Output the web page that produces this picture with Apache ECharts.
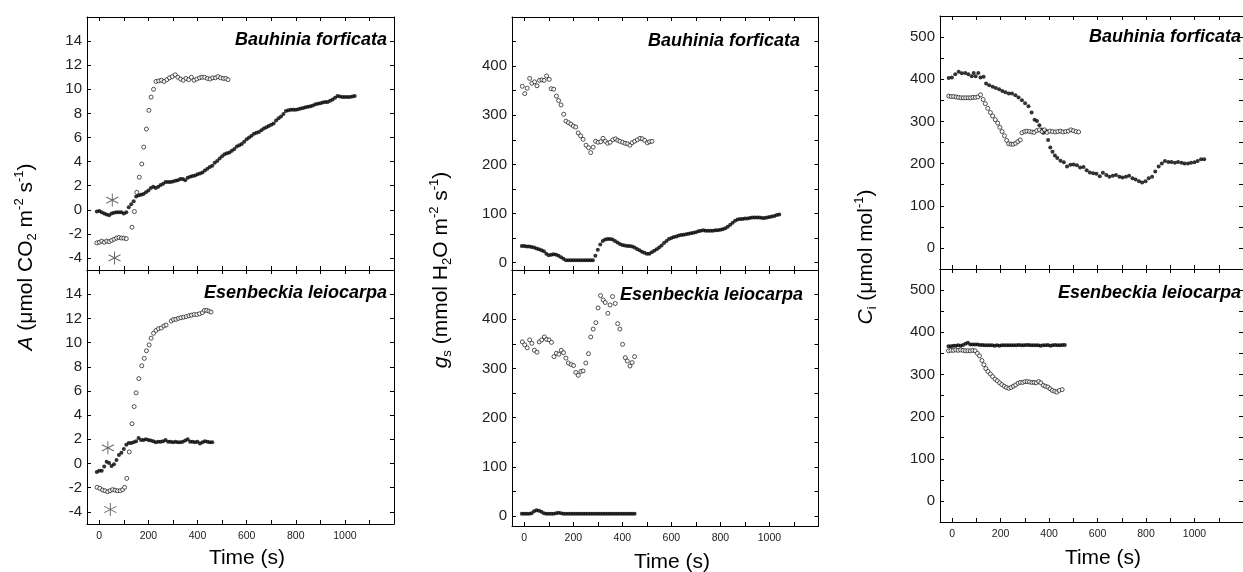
<!DOCTYPE html>
<html><head><meta charset="utf-8">
<script src="https://cdn.jsdelivr.net/npm/echarts@6/dist/echarts.min.js"></script>
<style>html,body{margin:0;padding:0;background:#fff}#c{width:1243px;height:572px}</style>
</head><body><div id="c"></div>
<script>
// ---------- tick / label values ----------
const xTicks = [0,100,200,300,400,500,600,700,800,900,1000,1100];
const xLabels = [0,200,400,600,800,1000];
const aTicks = [-4,-2,0,2,4,6,8,10,12,14];
const gsTicks = [0,50,100,150,200,250,300,350,400,450];
const gsLabels = [0,100,200,300,400];
const ciTicks = [0,50,100,150,200,250,300,350,400,450,500];
const ciLabels = [0,100,200,300,400,500];

const species = ['Bauhinia forficata', 'Esenbeckia leiocarpa'];

// ---------- A (net photosynthesis) ----------
const A_bf_closed = [[-10,-0.15],[0,-0.1],[10,-0.2],[20,-0.3],[30,-0.4],[40,-0.45],[50,-0.3],[60,-0.25],[70,-0.2],[80,-0.2],[90,-0.2],[100,-0.3],[110,-0.2],[120,0.2],[130,0.45],[140,0.7],[150,1.1],[160,1.2],[170,1.25],[180,1.3],[190,1.45],[200,1.6],[210,1.8],[220,1.9],[230,1.8],[240,1.9],[250,2.05],[260,2.15],[270,2.3],[280,2.3],[290,2.3],[300,2.35],[310,2.4],[320,2.45],[330,2.55],[340,2.55],[350,2.45],[360,2.65],[370,2.75],[380,2.8],[390,2.85],[400,2.95],[410,3.0],[420,3.1],[430,3.25],[440,3.4],[450,3.55],[460,3.65],[470,3.9],[480,4.05],[490,4.25],[500,4.45],[510,4.6],[520,4.7],[530,4.75],[540,4.9],[550,5.05],[560,5.25],[570,5.35],[580,5.45],[590,5.65],[600,5.85],[610,6.0],[620,6.15],[630,6.3],[640,6.4],[650,6.45],[660,6.6],[670,6.75],[680,6.85],[690,6.95],[700,7.05],[710,7.15],[720,7.4],[730,7.6],[740,7.75],[750,7.95],[760,8.2],[770,8.25],[780,8.3],[790,8.3],[800,8.3],[810,8.35],[820,8.4],[830,8.45],[840,8.5],[850,8.55],[860,8.6],[870,8.65],[880,8.75],[890,8.8],[900,8.85],[910,8.9],[920,8.95],[930,8.95],[940,9.05],[950,9.15],[960,9.3],[970,9.45],[980,9.4],[990,9.35],[1000,9.35],[1010,9.35],[1020,9.35],[1030,9.4],[1040,9.45]];
const A_bf_open = [[-10,-2.75],[0,-2.7],[10,-2.6],[20,-2.7],[30,-2.6],[40,-2.65],[50,-2.55],[60,-2.45],[70,-2.35],[80,-2.3],[90,-2.35],[100,-2.35],[110,-2.4],[133,-1.45],[143,-0.15],[153,1.45],[163,2.7],[173,3.8],[181,5.2],[192,6.7],[202,8.25],[211,9.35],[221,10.0],[231,10.65],[242,10.7],[253,10.75],[264,10.65],[275,10.8],[286,10.95],[297,11.05],[309,11.2],[320,11.0],[331,10.85],[342,10.75],[353,10.9],[364,10.8],[375,11.0],[386,10.75],[397,10.85],[408,10.95],[418,11.0],[429,11.0],[440,10.9],[451,10.85],[462,10.95],[473,10.95],[483,11.05],[494,10.95],[505,10.9],[515,10.9],[524,10.8]];
const A_bf_star = [[53,0.8],[62,-4.0]];

const A_el_closed = [[-10,-0.7],[0,-0.6],[10,-0.6],[20,-0.25],[30,0.15],[40,0.05],[50,-0.2],[60,-0.05],[70,0.3],[80,0.7],[90,0.9],[100,1.2],[110,1.55],[120,1.7],[130,1.7],[140,1.75],[150,1.85],[160,2.1],[170,1.95],[180,1.95],[190,2.0],[200,1.95],[210,1.9],[220,1.85],[230,1.75],[240,1.8],[250,1.8],[260,1.85],[270,1.95],[280,1.8],[290,1.8],[300,1.75],[310,1.8],[320,1.75],[330,1.75],[340,1.8],[350,1.9],[360,2.0],[370,1.8],[380,1.8],[390,1.75],[400,1.8],[410,1.65],[420,1.75],[430,1.85],[440,1.8],[450,1.75],[460,1.75]];
const A_el_open = [[-9,-1.97],[2,-2.05],[13,-2.19],[23,-2.25],[34,-2.33],[44,-2.25],[54,-2.16],[64,-2.2],[74,-2.25],[85,-2.25],[95,-2.16],[103,-1.97],[112,-1.23],[122,0.96],[133,3.29],[142,4.71],[150,5.84],[161,7.02],[173,8.08],[183,8.69],[192,9.32],[203,9.81],[211,10.36],[221,10.77],[231,11.0],[241,11.15],[252,11.2],[263,11.37],[272,11.45],[293,11.78],[302,11.9],[312,11.92],[322,12.0],[332,12.05],[343,12.1],[354,12.15],[365,12.22],[375,12.27],[386,12.32],[397,12.32],[408,12.38],[420,12.47],[428,12.66],[437,12.66],[446,12.6],[455,12.52]];
const A_el_star = [[35,1.3],[45,-3.8]];

// ---------- gs (stomatal conductance) ----------
const gs_bf_closed = [[-10,34],[0,34],[10,33],[20,33],[30,32],[40,31],[50,29],[60,27],[70,25],[80,23],[90,18],[100,15],[110,16],[120,17],[130,16],[140,14],[150,11],[160,8],[170,5],[180,5],[190,5],[200,5],[210,5],[220,5],[230,5],[240,5],[250,5],[260,5],[270,5],[280,5],[290,14],[300,26],[310,37],[320,44],[330,47],[340,48],[350,48],[360,47],[370,44],[380,41],[390,38],[400,36],[410,35],[420,34],[430,34],[440,33],[450,31],[460,28],[470,25],[480,22],[490,20],[500,18],[510,18],[520,21],[530,24],[540,27],[550,31],[560,35],[570,40],[580,44],[590,48],[600,50],[610,52],[620,53],[630,55],[640,56],[650,57],[660,58],[670,59],[680,60],[690,61],[700,62],[710,64],[720,65],[730,66],[740,65],[750,65],[760,65],[770,65],[780,66],[790,66],[800,67],[810,68],[820,70],[830,73],[840,77],[850,81],[860,85],[870,88],[880,89],[890,89],[900,90],[910,90],[920,91],[930,92],[940,92],[950,92],[960,92],[970,91],[980,91],[990,92],[1000,93],[1010,94],[1020,95],[1030,97],[1040,98]];
const gs_bf_open = [[-8,359],[2,344],[12,355],[22,375],[31,365],[42,368],[52,360],[62,371],[72,372],[81,371],[91,380],[102,373],[110,354],[120,353],[131,339],[140,330],[150,321],[161,302],[170,288],[180,285],[190,282],[200,278],[210,276],[220,264],[230,258],[240,251],[252,239],[262,234],[271,224],[281,235],[291,247],[301,245],[312,246],[321,253],[331,247],[340,243],[350,245],[361,250],[372,252],[381,249],[390,247],[401,245],[411,243],[421,242],[431,239],[440,244],[450,247],[461,250],[472,253],[481,252],[491,249],[502,244],[511,246],[521,247]];

const gs_el_closed = [[-10,5],[0,5],[10,5],[20,5],[30,6],[40,10],[50,12],[60,11],[70,9],[80,6],[90,5],[100,5],[110,5],[120,5],[130,6],[140,7],[150,6],[160,5],[170,5],[180,5],[190,5],[200,5],[210,5],[220,5],[230,5],[240,5],[250,5],[260,5],[270,5],[280,5],[290,5],[300,5],[310,5],[320,5],[330,5],[340,5],[350,5],[360,5],[370,5],[380,5],[390,5],[400,5],[410,5],[420,5],[430,5],[440,5],[450,5]];
const gs_el_open = [[-8,354],[2,348],[12,342],[22,358],[31,351],[41,337],[52,333],[61,354],[71,358],[82,364],[91,359],[101,358],[111,353],[121,324],[131,331],[141,329],[151,337],[160,332],[170,321],[180,311],[191,308],[201,306],[210,292],[220,286],[231,294],[240,295],[251,311],[262,330],[271,364],[281,380],[292,393],[301,423],[311,448],[322,439],[330,434],[341,412],[350,429],[360,446],[371,432],[381,391],[390,380],[401,349],[412,322],[420,315],[431,305],[440,312],[450,324]];

// ---------- Ci (internal CO2) ----------
const ci_bf_closed = [[-14,403],[-1,404],[13,412],[27,418],[40,414],[54,415],[67,412],[81,407],[89,415],[97,407],[108,415],[117,404],[130,406],[140,390],[153,386],[167,382],[180,379],[194,376],[207,372],[220,369],[234,366],[247,366],[261,362],[274,357],[288,350],[301,343],[315,336],[328,321],[340,304],[350,301],[360,291],[369,281],[376,273],[387,278],[396,256],[405,238],[414,228],[424,219],[434,213],[447,207],[461,203],[474,193],[488,197],[501,198],[515,196],[528,191],[542,192],[555,184],[568,179],[582,177],[595,176],[609,170],[622,178],[636,173],[649,169],[663,171],[676,173],[690,169],[703,167],[717,169],[730,171],[744,165],[757,162],[771,158],[784,155],[798,158],[811,165],[825,169],[838,181],[852,193],[865,200],[878,206],[892,204],[905,204],[919,202],[932,204],[946,202],[959,200],[973,200],[986,202],[1000,203],[1013,206],[1027,210],[1040,210]];
const ci_bf_open = [[-14,360],[-4,359],[6,359],[16,358],[26,357],[36,356],[46,356],[56,356],[66,356],[76,356],[86,357],[96,357],[106,358],[117,363],[128,352],[137,342],[147,331],[158,321],[167,313],[178,304],[188,296],[197,286],[206,276],[216,266],[225,255],[233,247],[243,246],[252,246],[262,248],[271,252],[281,256],[288,273],[299,276],[308,277],[319,276],[329,275],[338,274],[349,278],[360,280],[371,276],[381,280],[392,274],[403,277],[414,276],[425,275],[436,276],[447,277],[457,275],[468,276],[479,277],[490,280],[500,278],[511,276],[522,275]];

const ci_el_closed = [[-15,367],[-5,367],[5,368],[15,368],[25,369],[35,368],[45,370],[55,373],[65,375],[75,371],[85,371],[95,371],[105,371],[115,370],[125,370],[135,369],[145,369],[155,369],[165,369],[175,368],[185,369],[195,368],[205,369],[215,369],[225,369],[235,369],[245,369],[255,369],[265,369],[275,370],[285,369],[295,369],[305,370],[315,370],[325,369],[335,369],[345,369],[355,369],[365,368],[375,369],[385,369],[395,370],[405,368],[415,369],[425,370],[435,369],[445,369],[455,370],[465,370]];
const ci_el_open = [[-15,356],[-5,357],[5,357],[15,358],[25,357],[35,358],[45,357],[55,356],[65,356],[75,356],[85,357],[95,356],[104,350],[113,344],[123,333],[131,323],[139,314],[148,307],[158,301],[167,295],[177,289],[186,285],[196,280],[205,276],[215,272],[224,269],[234,267],[243,269],[253,272],[262,275],[272,279],[281,281],[291,281],[300,283],[310,283],[319,282],[329,281],[338,281],[347,280],[357,283],[366,280],[376,274],[385,272],[395,270],[404,266],[413,262],[423,260],[432,258],[442,262],[454,264]];

// ---------- layout ----------
const FONT = "'Liberation Sans', Arial, Helvetica, sans-serif";
const grids = [
  {left:87,  top:17,  width:307,   height:253, ymin:-5,  ymax:16,  yt:aTicks,  yl:aTicks,   bottom:false},
  {left:87,  top:270, width:307,   height:254, ymin:-5,  ymax:16,  yt:aTicks,  yl:aTicks,   bottom:true},
  {left:512, top:17,  width:306.5, height:253, ymin:-15, ymax:500, yt:gsTicks, yl:gsLabels, bottom:false},
  {left:512, top:270, width:306.5, height:256, ymin:-20, ymax:500, yt:gsTicks, yl:gsLabels, bottom:true},
  {left:940, top:16,  width:310,   height:253, ymin:-50, ymax:550, yt:ciTicks, yl:ciLabels, bottom:false},
  {left:940, top:269, width:310,   height:253, ymin:-50, ymax:550, yt:ciTicks, yl:ciLabels, bottom:true}
];

const lineStyle = {color:'#000', width:1};
const plain = v => String(v);
const xAxes = [], yAxes = [];
grids.forEach((g, i) => {
  [false, true].forEach(mirror => {
    xAxes.push({
      type:'value', gridIndex:i, min:-50, max:1200, position: mirror ? 'top' : 'bottom',
      axisLine:{show:true, onZero:false, lineStyle},
      axisTick:{show:true, inside:true, length:4, customValues:xTicks, lineStyle},
      axisLabel:{show: g.bottom && !mirror, customValues:xLabels, formatter:plain, fontSize:10.5, margin:7, color:'#222', fontFamily:FONT},
      splitLine:{show:false}
    });
    yAxes.push({
      type:'value', gridIndex:i, min:g.ymin, max:g.ymax, position: mirror ? 'right' : 'left',
      axisLine:{show:true, onZero:false, lineStyle},
      axisTick:{show:true, inside:true, length:4, customValues:g.yt, lineStyle},
      axisLabel:{show: !mirror, customValues:g.yl, formatter:plain, fontSize:15, margin:5, color:'#222', fontFamily:FONT},
      splitLine:{show:false}
    });
  });
});

function closed(data, gi) {
  return {type:'scatter', xAxisIndex:2*gi, yAxisIndex:2*gi, data, symbol:'circle', symbolSize:4,
    itemStyle:{color:'#000'}, silent:true, z:3};
}
function open(data, gi) {
  return {type:'scatter', xAxisIndex:2*gi, yAxisIndex:2*gi, data, symbol:'circle', symbolSize:4,
    itemStyle:{color:'#fff', borderColor:'#111', borderWidth:0.9}, silent:true, z:4};
}
function stars(data, gi) {
  return {type:'scatter', xAxisIndex:2*gi, yAxisIndex:2*gi, data,
    symbol:'path://M5,0L5,10M0.9,2.6L9.1,7.4M0.9,7.4L9.1,2.6', symbolSize:[12,13],
    itemStyle:{color:'rgba(0,0,0,0)', borderColor:'#444', borderWidth:1}, silent:true, z:5};
}

const series = [
  closed(A_bf_closed,0), open(A_bf_open,0), stars(A_bf_star,0),
  closed(A_el_closed,1), open(A_el_open,1), stars(A_el_star,1),
  closed(gs_bf_closed,2), open(gs_bf_open,2),
  closed(gs_el_closed,3), open(gs_el_open,3),
  closed(ci_bf_closed,4), open(ci_bf_open,4),
  closed(ci_el_closed,5), open(ci_el_open,5)
];

const titleStyle = (t) => ({text:t, fontFamily:FONT, fontSize:18, fontWeight:'bold', fontStyle:'italic', fill:'#000', align:'right', verticalAlign:'middle'});
const titles = [
  {x:387,  y:40,  t:species[0]}, {x:387,  y:293, t:species[1]},
  {x:800,  y:41,  t:species[0]}, {x:803,  y:295, t:species[1]},
  {x:1241, y:37,  t:species[0]}, {x:1241, y:293, t:species[1]}
];
const graphic = titles.map(o => ({type:'text', x:o.x, y:o.y, style:titleStyle(o.t), silent:true}));

const rich = {
  i:{fontStyle:'italic', fontSize:21, fontFamily:FONT, lineHeight:26, fill:'#000'},
  sub:{fontSize:13, fontFamily:FONT, verticalAlign:'bottom', lineHeight:13, fill:'#000'},
  sup:{fontSize:13, fontFamily:FONT, verticalAlign:'top', lineHeight:13, fill:'#000'}
};
const yNames = [
  {x:26,  y:257, t:'{i|A} (μmol CO{sub|2} m{sup|-2} s{sup|-1})'},
  {x:441, y:270, t:'{i|g}{sub|s} (mmol H{sub|2}O m{sup|-2} s{sup|-1})'},
  {x:866, y:257, t:'{i|C}{sub|i} (μmol mol{sup|-1})'}
];
yNames.forEach(o => graphic.push({type:'text', x:o.x, y:o.y, rotation:Math.PI/2, silent:true,
  style:{text:o.t, rich, fontFamily:FONT, fontSize:21, lineHeight:26, fill:'#000', align:'center', verticalAlign:'middle'}}));
[{x:247,y:558},{x:672,y:562},{x:1103,y:558}].forEach(o => graphic.push({type:'text', x:o.x, y:o.y, silent:true,
  style:{text:'Time (s)', fontFamily:FONT, fontSize:21, fill:'#000', align:'center', verticalAlign:'middle'}}));

const chart = echarts.init(document.getElementById('c'), null, {renderer:'canvas'});
chart.setOption({
  animation:false,
  backgroundColor:'#fff',
  grid: grids.map(g => ({left:g.left, top:g.top, width:g.width, height:g.height})),
  xAxis: xAxes, yAxis: yAxes, series, graphic
});
</script></body></html>
